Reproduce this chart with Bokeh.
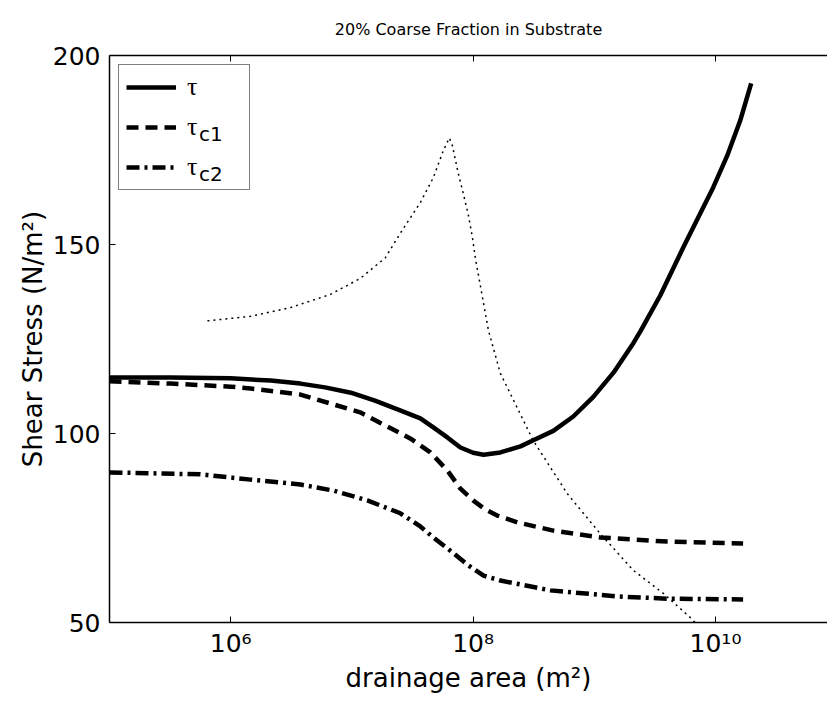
from bokeh.plotting import figure
from bokeh.models import (Range1d, LogAxis, FixedTicker, CustomJSTickFormatter,
                          Legend, LegendItem)
from bokeh.embed import file_html
from bokeh.resources import INLINE

# ---- data ----
tau_x = [1.0e5, 3.2e5, 1.0e6, 2.14e6, 3.76e6, 6.0e6, 9.8e6, 1.55e7, 2.5e7, 3.67e7,
         4.7e7, 6.17e7, 7.86e7, 1.0e8, 1.22e8, 1.68e8, 2.46e8, 3.14e8, 4.59e8,
         6.71e8, 9.82e8, 1.44e9, 2.1e9, 2.4e9, 3.5e9, 5.42e9, 7.48e9, 9.58e9,
         1.25e10, 1.6e10, 1.97e10]
tau_y = [114.8, 114.8, 114.6, 114.0, 113.2, 112.2, 110.8, 108.7, 106.1, 104.0,
         101.6, 98.9, 96.3, 94.9, 94.4, 95.0, 96.6, 98.2, 100.7,
         104.5, 109.7, 116.1, 123.9, 127.0, 136.5, 149.2, 158.2, 165.1,
         173.5, 182.8, 192.6]

c1_x = [1.0e5, 3.2e5, 1.0e6, 1.46e6, 3.76e6, 1.17e7, 1.72e7, 3.03e7, 4.44e7, 6.14e7,
        7.86e7, 1.0e8, 1.26e8, 1.58e8, 2.32e8, 4.59e8, 1.12e9, 4.0e9, 1.69e10]
tau_c1 = [113.8, 113.2, 112.4, 111.9, 110.3, 105.6, 102.8, 98.7, 95.0, 90.2,
          85.4, 82.3, 79.9, 78.3, 76.5, 74.3, 72.5, 71.4, 70.9]

c2_x = [1.0e5, 5.62e5, 1.46e6, 3.76e6, 7.03e6, 1.34e7, 2.51e7, 3.67e7, 4.7e7, 6.49e7,
        8.97e7, 1.22e8, 1.68e8, 4.34e8, 1.55e9, 4.0e9, 1.69e10]
tau_c2 = [89.7, 89.2, 87.8, 86.5, 84.9, 82.3, 78.9, 75.4, 72.5, 69.0,
          65.3, 62.4, 61.1, 58.5, 56.9, 56.3, 56.1]

dot_x = [6.43e5, 1.46e6, 3.11e6, 6.65e6, 1.17e7, 1.89e7, 2.5e7, 3.67e7, 4.7e7, 5.69e7,
         6.37e7, 6.74e7, 7.55e7, 8.3e7, 9.15e7, 9.87e7, 1.045e8, 1.15e8, 1.34e8,
         1.68e8, 3.14e8, 5.98e8, 1.12e9, 2.1e9, 3.71e9, 6.2e9, 7.5e9]
dot_y = [129.8, 131.0, 133.3, 136.8, 141.0, 146.5, 152.9, 161.1, 167.7, 174.9,
         178.2, 176.2, 168.8, 163.5, 157.7, 151.9, 146.3, 139.0, 127.2,
         115.9, 98.1, 84.1, 73.5, 63.8, 57.7, 51.3, 48.5]

x_ticks = [1e6, 1e8, 1e10]
y_ticks = [50, 100, 150, 200]
legend_main = ["\u03c4", "\u03c4", "\u03c4"]
legend_sub = [" ", "c1", "c2"]

FONT = "DejaVu Sans"

p = figure(width=827, height=701, x_axis_type="log",
           x_range=Range1d(1e5, 8.4e10), y_range=Range1d(50, 200),
           output_backend="svg", toolbar_location=None,
           title="20% Coarse Fraction in Substrate")
p.min_border_left = 109
p.min_border_right = 0
p.min_border_top = 55
p.min_border_bottom = 79
p.outline_line_color = None
p.xgrid.visible = False
p.ygrid.visible = False
p.background_fill_color = "white"
p.border_fill_color = "white"

p.title.text_font = FONT
p.title.text_font_size = "16px"
p.title.text_font_style = "normal"
p.title.text_color = "black"
p.title.align = "center"
p.title.standoff = 34

fmt = CustomJSTickFormatter(code="""
const sup = {"0":"\u2070","1":"\u00b9","2":"\u00b2","3":"\u00b3","4":"\u2074",
             "5":"\u2075","6":"\u2076","7":"\u2077","8":"\u2078","9":"\u2079"};
const e = Math.round(Math.log10(tick));
return "10" + String(e).split("").map(c => sup[c]).join("");
""")

xa = p.xaxis[0]
xa.ticker = FixedTicker(ticks=x_ticks, minor_ticks=[])
xa.formatter = fmt
xa.axis_label = "drainage area (m\u00b2)"
ya = p.yaxis[0]
ya.ticker = FixedTicker(ticks=y_ticks, minor_ticks=[])
ya.axis_label = "Shear Stress (N/m\u00b2)"

for ax in (xa, ya):
    ax.axis_line_width = 1.5
    ax.axis_line_color = "black"
    ax.major_tick_in = 6
    ax.major_tick_out = 0
    ax.minor_tick_in = 0
    ax.minor_tick_out = 0
    ax.major_tick_line_color = "black"
    ax.major_label_text_font = FONT
    ax.major_label_text_font_size = "25px"
    ax.major_label_text_color = "black"
    ax.axis_label_text_font = FONT
    ax.axis_label_text_font_size = "26px"
    ax.axis_label_text_font_style = "normal"
    ax.axis_label_text_color = "black"
xa.major_label_standoff = 6
xa.axis_label_standoff = 2
ya.major_label_standoff = 9
ya.axis_label_standoff = 2

top = LogAxis(ticker=FixedTicker(ticks=x_ticks, minor_ticks=[]),
              major_label_text_font_size="4px", major_label_text_alpha=0,
              major_label_standoff=0, major_tick_in=6, major_tick_out=0,
              minor_tick_in=0, minor_tick_out=0, axis_line_width=1.5,
              axis_line_color="black")
p.add_layout(top, "above")

r1 = p.line(tau_x, tau_y, line_width=4.5, line_color="black")
r2 = p.line(c1_x, tau_c1, line_width=4.5, line_color="black", line_dash="12 7")
r3 = p.line(c2_x, tau_c2, line_width=4.5, line_color="black", line_dash="13 5 3 5")
p.line(dot_x, dot_y, line_width=1.5, line_color="black", line_dash="2 4")

legend = Legend(items=[LegendItem(label=t, renderers=[r])
                       for t, r in zip(legend_main, (r1, r2, r3))],
                location="top_left")
legend.label_text_font = "Liberation Serif"
legend.label_text_font_size = "26px"
legend.label_text_color = "black"
legend.glyph_width = 50
legend.glyph_height = 30
legend.label_height = 30
legend.label_width = 55
legend.label_standoff = 11
legend.spacing = 10
legend.padding = 7
legend.margin = 9
legend.border_line_color = "black"
legend.border_line_width = 1
legend.background_fill_alpha = 1
p.add_layout(legend)

# subscripts of the legend labels (second, transparent legend laid over the first)
ghost = p.line([], [], line_alpha=0)
sub = Legend(items=[LegendItem(label=t, renderers=[ghost]) for t in legend_sub],
             location="top_left")
sub.label_text_font = FONT
sub.label_text_font_size = "20px"
sub.label_text_color = "black"
sub.glyph_width = 55
sub.glyph_height = 30
sub.label_height = 30
sub.label_standoff = 11
sub.spacing = 10
sub.padding = 15
sub.margin = 9
sub.border_line_alpha = 0
sub.background_fill_alpha = 0
p.add_layout(sub)

open("out.html", "w").write(file_html(p, INLINE))
